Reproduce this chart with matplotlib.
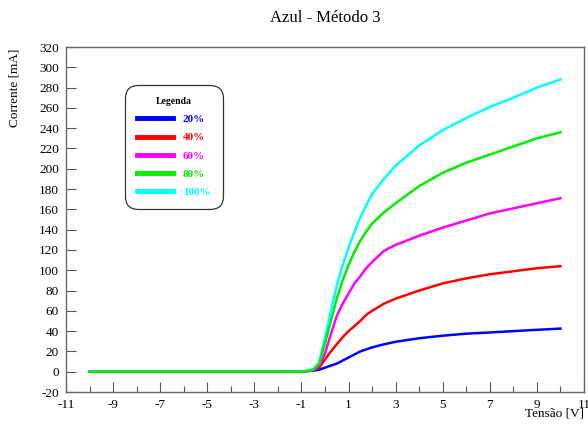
import matplotlib.pyplot as plt
import matplotlib.ticker as ticker

plt.rcParams['font.family'] = ['Liberation Serif', 'DejaVu Serif']
plt.rcParams['axes.unicode_minus'] = False

# Dados
tensao = [-10, -1, -0.5, -0.25, 0, 0.25, 0.5, 0.75, 1, 1.25, 1.5, 1.75, 2, 2.5, 3, 4, 5, 6, 7, 8, 9, 10]
i20 = [0, 0, 1, 2, 4, 6, 8, 11, 14, 17, 20, 22, 24, 27, 29.5, 33, 35.5, 37.5, 38.7, 40, 41.3, 42.5]
i40 = [0, 0, 1.5, 4, 12, 20, 27, 34, 40, 45, 50, 56, 60, 67, 72, 80, 87, 92, 96, 99, 102, 104]
i60 = [0, 0, 1.5, 6, 18, 37, 55, 67, 77, 87, 94, 102, 108, 119, 125, 134, 142, 149, 156, 161, 166, 171]
i80 = [0, 0, 2, 8, 28, 50, 72, 90, 105, 118, 129, 138, 146, 157, 166, 183, 196, 206, 214, 222, 230, 236]
i100 = [0, 0, 2, 9, 33, 60, 85, 105, 122, 138, 152, 164, 175, 190, 203, 223, 238, 250, 261, 270, 280, 288]

series = [
    ('20%', i20, '#0000ff'),
    ('40%', i40, '#ff0000'),
    ('60%', i60, '#ff00ff'),
    ('100%', i100, '#00ffff'),
    ('80%', i80, '#00ee00'),
]
legend_order = ['20%', '40%', '60%', '80%', '100%']

fig = plt.figure(figsize=(5.88, 4.25), dpi=100)
ax = fig.add_axes([0.1122, 0.0776, 0.8810, 0.8118])

handles = {}
for name, vals, cor in series:
    ln, = ax.plot(tensao, vals, color=cor, lw=1.8, label=name)
    handles[name] = ln

ax.set_xlim(-11, 11)
ax.set_ylim(-20, 320)
ax.xaxis.set_major_locator(ticker.MultipleLocator(2, offset=1))
ax.xaxis.set_minor_locator(ticker.MultipleLocator(1))
ax.yaxis.set_major_locator(ticker.MultipleLocator(20))
ax.tick_params(which='major', direction='in', length=7, width=0.8, color='#555555',
               labelsize=9.5, pad=5, top=False, right=False)
ax.tick_params(which='minor', direction='in', length=4, width=0.8, color='#555555',
               top=False, right=False)
for s in ax.spines.values():
    s.set_color('#666666')
    s.set_linewidth(1.0)

fig.text(325 / 588, 1 - 18 / 425, 'Azul - Método 3', ha='center', va='center', fontsize=12)
fig.text(15 / 588, 1 - 88 / 425, 'Corrente [mA]', ha='center', va='center',
         rotation=90, fontsize=9.5)
fig.text(584 / 588, 1 - 413 / 425, 'Tensão [V]', ha='right', va='center', fontsize=9.5)

leg = ax.legend([handles[n] for n in legend_order], legend_order,
                loc='upper left', bbox_to_anchor=(0.114, 0.89), borderaxespad=0,
                title='Legenda', title_fontproperties={'weight': 'bold', 'size': 7},
                prop={'weight': 'bold', 'size': 8}, labelcolor='linecolor',
                handlelength=3.2, handletextpad=0.9, labelspacing=0.75,
                borderpad=1.1, fancybox=True, framealpha=1, edgecolor='#333333')
for h in leg.legend_handles:
    h.set_linewidth(3.5)
leg.get_frame().set_boxstyle('round,pad=0,rounding_size=1.2')
leg.get_frame().set_linewidth(0.9)

fig.savefig('out.png', dpi=100)
